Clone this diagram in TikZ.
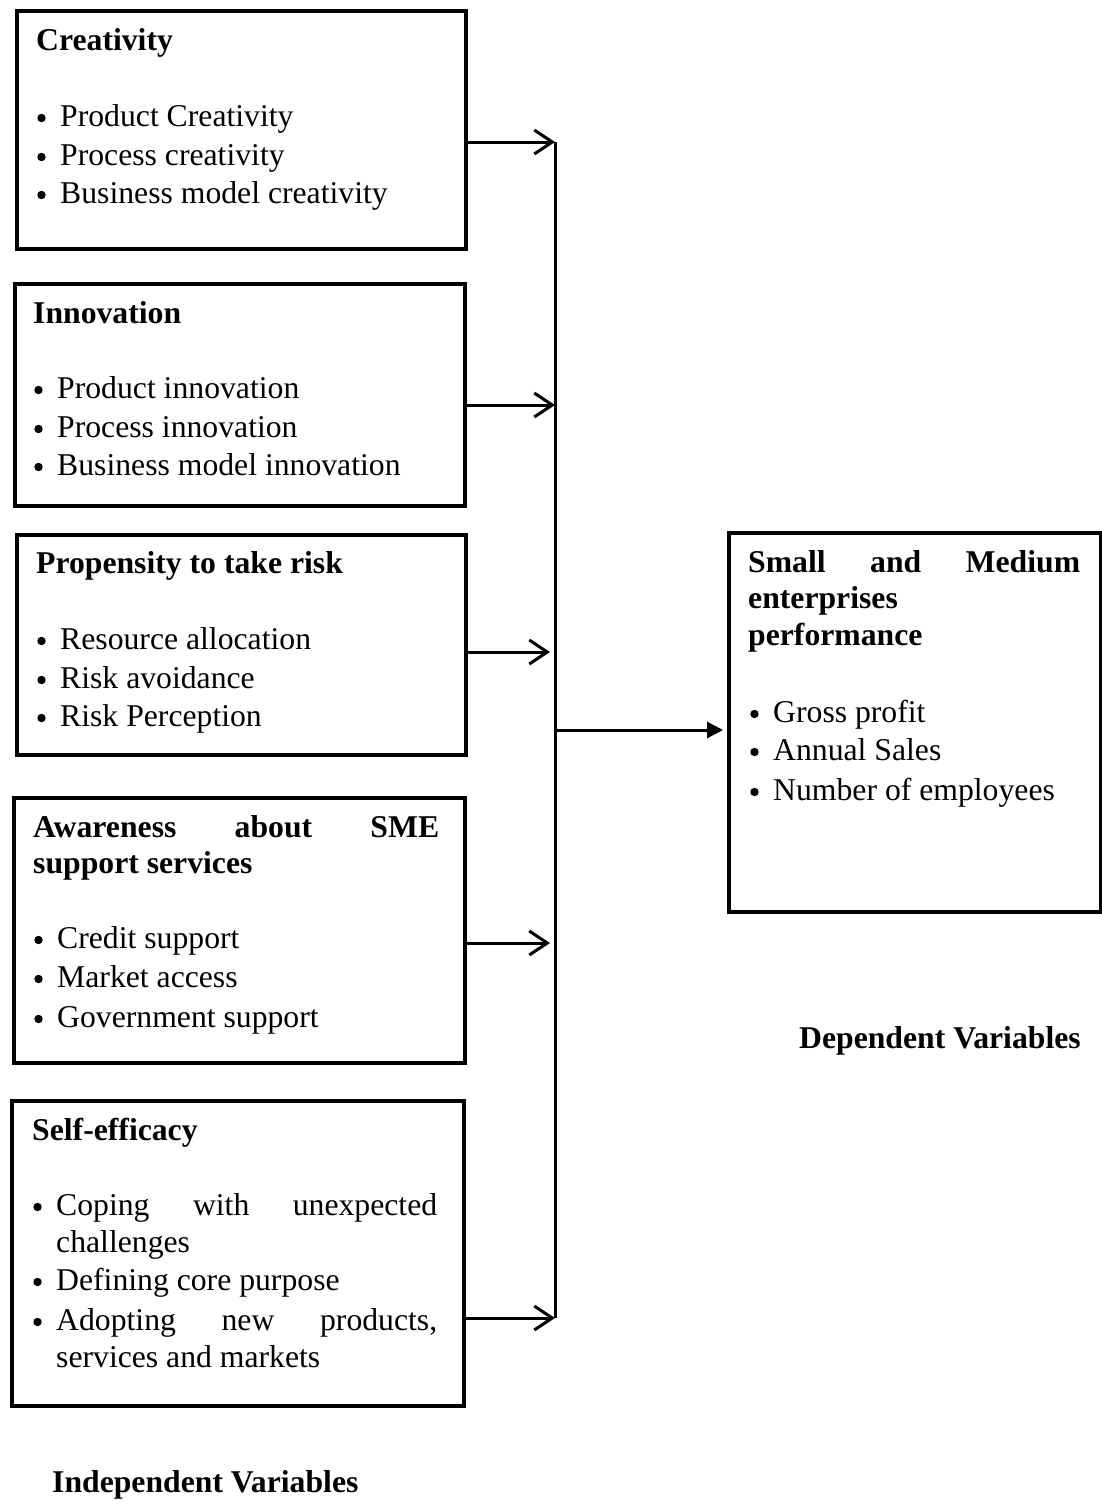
\documentclass[tikz,border=0pt]{standalone}
\usepackage{fontspec}
\setmainfont{Liberation Serif}
\usetikzlibrary{arrows.meta}
\begin{document}
\begin{tikzpicture}[x=1pt,y=-1pt,
  box/.style={draw,line width=4pt,inner sep=0pt,anchor=north west},
  txt/.style={inner sep=0pt,anchor=base west,font=\fontsize{31.7}{38}\selectfont},
  head/.style={inner sep=0pt,anchor=base west,font=\fontsize{31.7}{38}\selectfont\bfseries},
  conn/.style={line width=3pt},
  feed/.style={conn,-{Straight Barb[length=18pt,width=24pt]}},
  outarr/.style={conn,-{Triangle[length=16pt,width=16pt]},shorten >=4pt}]
\useasboundingbox (0,0) rectangle (1101,1510);
\newcommand{\bul}{\hspace*{23pt}}
% boxes
\node[box,minimum width=449.5pt,minimum height=237.7pt] (b1) at (14.5,9.3) {};
\node[box,minimum width=450pt,minimum height=221.7pt] (b2) at (13,282) {};
\node[box,minimum width=449.3pt,minimum height=220pt] (b3) at (14.7,533) {};
\node[box,minimum width=451pt,minimum height=265pt] (b4) at (12,796) {};
\node[box,minimum width=451.7pt,minimum height=305pt] (b5) at (10.3,1099) {};
\node[box,minimum width=372pt,minimum height=379pt] (out) at (727,531) {};
% box 1
\node[head] (h1) at (36,50) {Creativity};
\node[txt] (t11) at (37,126) {\bul Product Creativity};
\node[txt] (t12) at (37,165) {\bul Process creativity};
\node[txt] (t13) at (37,203) {\bul Business model creativity};
% box 2
\node[head] (h2) at (33,323) {Innovation};
\node[txt] (t21) at (34,398) {\bul Product innovation};
\node[txt] (t22) at (34,437) {\bul Process innovation};
\node[txt] (t23) at (34,475) {\bul Business model innovation};
% box 3
\node[head] (h3) at (36,573) {Propensity to take risk};
\node[txt] (t31) at (37,649) {\bul Resource allocation};
\node[txt] (t32) at (37,688) {\bul Risk avoidance};
\node[txt] (t33) at (37,726) {\bul Risk Perception};
% box 4
\node[head] (h4a) at (33,837) {\makebox[406pt][s]{Awareness\hfill about\hfill SME}};
\node[head] (h4b) at (33,873) {support services};
\node[txt] (t41) at (34,948) {\bul Credit support};
\node[txt] (t42) at (34,987) {\bul Market access};
\node[txt] (t43) at (34,1027) {\bul Government support};
% box 5
\node[head] (h5) at (32,1140) {Self-efficacy};
\node[txt] (t51) at (33,1215) {\bul\makebox[381pt][s]{Coping\hfill with\hfill unexpected}};
\node[txt] (t52) at (56,1252) {challenges};
\node[txt] (t53) at (33,1290) {\bul Defining core purpose};
\node[txt] (t54) at (33,1330) {\bul\makebox[381pt][s]{Adopting\hfill new\hfill products,}};
\node[txt] (t55) at (56,1367) {services and markets};
% output box
\node[head] (ha) at (748,572) {\makebox[332pt][s]{Small\hfill and\hfill Medium}};
\node[head] (hb) at (748,608) {enterprises};
\node[head] (hc) at (748,645) {performance};
\node[txt] (o1) at (750,722) {\bul Gross profit};
\node[txt] (o2) at (750,760) {\bul Annual Sales};
\node[txt] (o3) at (750,800) {\bul Number of employees};
% bullets
\foreach \bx/\by in {37/126,37/165,37/203,34/398,34/437,34/475,37/649,37/688,37/726,
  34/948,34/987,34/1027,33/1215,33/1290,33/1330,750/722,750/760,750/800}
  \fill (\bx+4.5,\by-8) circle (4.2pt);
% labels
\node[head] (li) at (52,1492) {Independent Variables};
\node[head] (ld) at (799,1048) {Dependent Variables};
% connectors
\coordinate (j1) at (555,142);
\coordinate (j2) at (555,405);
\coordinate (j3) at (550,652);
\coordinate (j4) at (550,943);
\coordinate (j5) at (555,1318);
\coordinate (jo) at (555,730);
\draw[conn] (j1) -- (j5);
\draw[feed] (b1.east |- j1) -- (j1);
\draw[feed] (b2.east |- j2) -- (j2);
\draw[feed] ([xshift=-4pt]b3.east |- j3) -- (j3);
\draw[feed] ([xshift=-3pt]b4.east |- j4) -- (j4);
\draw[feed] (b5.east |- j5) -- (j5);
\draw[outarr] (jo) -- (out.west |- jo);
\end{tikzpicture}
\end{document}
